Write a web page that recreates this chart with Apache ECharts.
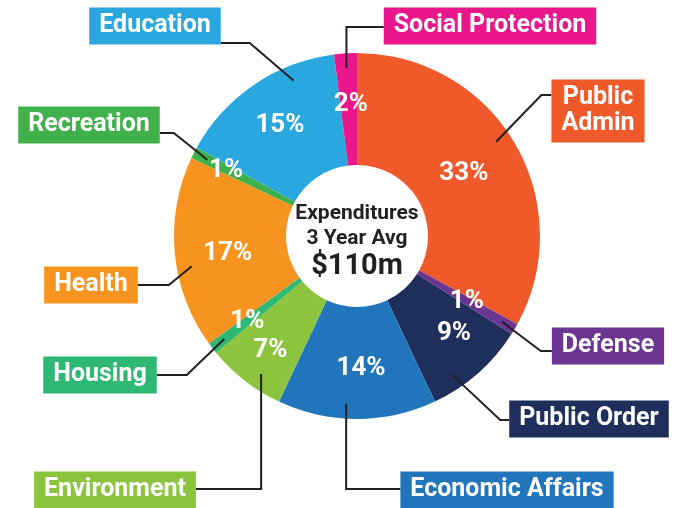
<!DOCTYPE html>
<html>
<head>
<meta charset="utf-8">
<script src="https://cdn.jsdelivr.net/npm/echarts/dist/echarts.min.js"></script>
<style>
    html, body { margin: 0; padding: 0; background: #fff; }
    #chart { width: 680px; height: 508px; }
</style>
</head>
<body>
<div id="chart"></div>
<script>
    // slices, clockwise from 12 o'clock
    var categories = ['Public\nAdmin', 'Defense', 'Public Order', 'Economic Affairs', 'Environment',
        'Housing', 'Health', 'Recreation', 'Education', 'Social Protection'];
    var shares = [33, 1, 9, 14, 7, 1, 17, 1, 15, 2];
    var colors = ['#f05a2b', '#6b3591', '#1f2f5c', '#2176bb', '#8cc43f',
        '#2fb774', '#f7941f', '#40b14a', '#2aa7df', '#e9168c'];
    var centerLines = ['Expenditures', '3 Year Avg', '$110m'];

    // small nudges of the % labels away from the slice middle
    var pctNudge = [[-5, 4], [-2, -1], [11, 0], [4, 2], [-7, 12], [-7, 6], [0, 5], [-15, -6], [-4, -3], [2, -2]];

    // callout boxes: centre of box, y offset where the leader meets it,
    // which side the box sits on, the elbow (horizontal run or vertical drop),
    // and how far (deg) the leader start is turned along the ring
    var callouts = [
        {x: 598, y: 111, dy: -16, side: 'right', run: 10, turn: -3.5},
        {x: 608, y: 346, dy: 5, side: 'right', run: 11, turn: 0},
        {x: 589, y: 419, dy: 1, side: 'right', run: 9, turn: 7},
        {x: 507, y: 490, dy: -1, side: 'right', vert: true, turn: 3.7},
        {x: 115, y: 490, dy: -1, side: 'left', vert: true, turn: -3},
        {x: 100, y: 375, dy: 0, side: 'left', run: 30, turn: 0},
        {x: 91, y: 285, dy: 0, side: 'left', run: 31, turn: -5},
        {x: 89, y: 125, dy: 8, side: 'left', run: 14, turn: 0},
        {x: 155, y: 26, dy: 17, side: 'left', run: 29, turn: 12},
        {x: 490, y: 26, dy: 1, side: 'right', vert: true, turn: 0}
    ];

    var center = [357, 236];
    var ink = '#231f20';
    var font = 'Roboto';

    var myChart = echarts.init(document.getElementById('chart'));

    var sliceData = [];
    var calloutData = [];
    for (var i = 0; i < shares.length; i++) {
        sliceData.push({name: categories[i], value: shares[i], itemStyle: {color: colors[i]}});
        calloutData.push({
            name: categories[i],
            value: shares[i],
            label: {backgroundColor: colors[i]}
        });
    }

    //把引线起点沿圆环转一点
    function turnPoint(pt, deg) {
        var a = deg * Math.PI / 180;
        var x = pt[0] - center[0], y = pt[1] - center[1];
        return [center[0] + x * Math.cos(a) - y * Math.sin(a),
            center[1] + x * Math.sin(a) + y * Math.cos(a)];
    }

    var option = {
        animation: false,
        backgroundColor: '#fff',
        graphic: [
            {
                type: 'text', x: center[0], y: center[1] - 22, z: 10,
                style: {text: centerLines[0], fill: ink, font: 'bold 21px ' + font, textAlign: 'center', textVerticalAlign: 'middle'}
            },
            {
                type: 'text', x: center[0], y: center[1] + 3, z: 10,
                style: {text: centerLines[1], fill: ink, font: 'bold 21px ' + font, textAlign: 'center', textVerticalAlign: 'middle'}
            },
            {
                type: 'text', x: center[0], y: center[1] + 31, z: 10,
                style: {text: centerLines[2], fill: ink, font: 'bold 29px ' + font, textAlign: 'center', textVerticalAlign: 'middle'}
            }
        ],
        series: [
            {
                type: 'pie',
                center: center,
                radius: [71, 183],
                startAngle: 90,
                clockwise: true,
                avoidLabelOverlap: false,
                silent: true,
                label: {
                    show: true,
                    position: 'inside',
                    formatter: '{c}%',
                    color: '#fff',
                    fontFamily: font,
                    fontWeight: 'bold',
                    fontSize: 26
                },
                labelLine: {show: false},
                labelLayout: function (p) {
                    var n = pctNudge[p.dataIndex];
                    return {dx: n[0], dy: n[1], hideOverlap: false};
                },
                data: sliceData
            },
            {
                // invisible ring that carries the callout boxes and leader lines
                type: 'pie',
                center: center,
                radius: [0, 168],
                startAngle: 90,
                clockwise: true,
                avoidLabelOverlap: false,
                silent: true,
                z: 3,
                itemStyle: {color: 'rgba(0,0,0,0)'},
                label: {
                    show: true,
                    position: 'outside',
                    formatter: '{b}',
                    color: '#fff',
                    fontFamily: font,
                    fontWeight: 'bold',
                    fontSize: 25,
                    lineHeight: 26,
                    padding: [6, 10, 5, 10]
                },
                labelLine: {
                    show: true,
                    length: 10,
                    length2: 10,
                    lineStyle: {color: ink, width: 2}
                },
                labelLayout: function (p) {
                    var c = callouts[p.dataIndex];
                    var s = turnPoint(p.labelLinePoints[0], c.turn);
                    var w = p.labelRect.width;
                    var endX = c.side === 'left' ? c.x + w / 2 : c.x - w / 2;
                    var endY = c.y + c.dy;
                    var elbow;
                    if (c.vert) {
                        elbow = [s[0], endY];
                    } else {
                        elbow = [c.side === 'left' ? endX + c.run : endX - c.run, endY];
                    }
                    return {
                        x: c.x,
                        y: c.y,
                        align: 'center',
                        verticalAlign: 'middle',
                        labelLinePoints: [s, elbow, [endX, endY]]
                    };
                },
                data: calloutData
            }
        ]
    };
    myChart.setOption(option);
</script>
</body>
</html>
